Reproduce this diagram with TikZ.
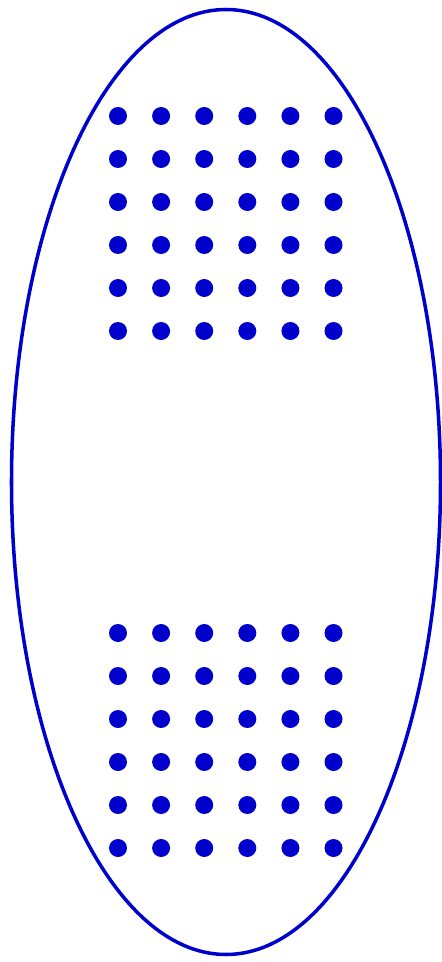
\documentclass[tikz,border=0pt]{standalone}
\definecolor{dotblue}{RGB}{0,0,204}
\begin{document}
\begin{tikzpicture}[x=0.02cm,y=-0.02cm]
    \useasboundingbox (0,0) rectangle (442,962);
    % Outer ellipse
    \draw[dotblue, line width=2pt] (226,482) ellipse [x radius=214.5, y radius=472.5];
    % Upper block of dots
    \foreach \col in {0,...,5} {
        \foreach \row in {0,...,5} {
            \fill[dotblue] (118+43.1*\col,116+43*\row) circle (9);
        }
    }
    % Lower block of dots
    \foreach \col in {0,...,5} {
        \foreach \row in {0,...,5} {
            \fill[dotblue] (118+43.1*\col,633+43*\row) circle (9);
        }
    }
\end{tikzpicture}
\end{document}
